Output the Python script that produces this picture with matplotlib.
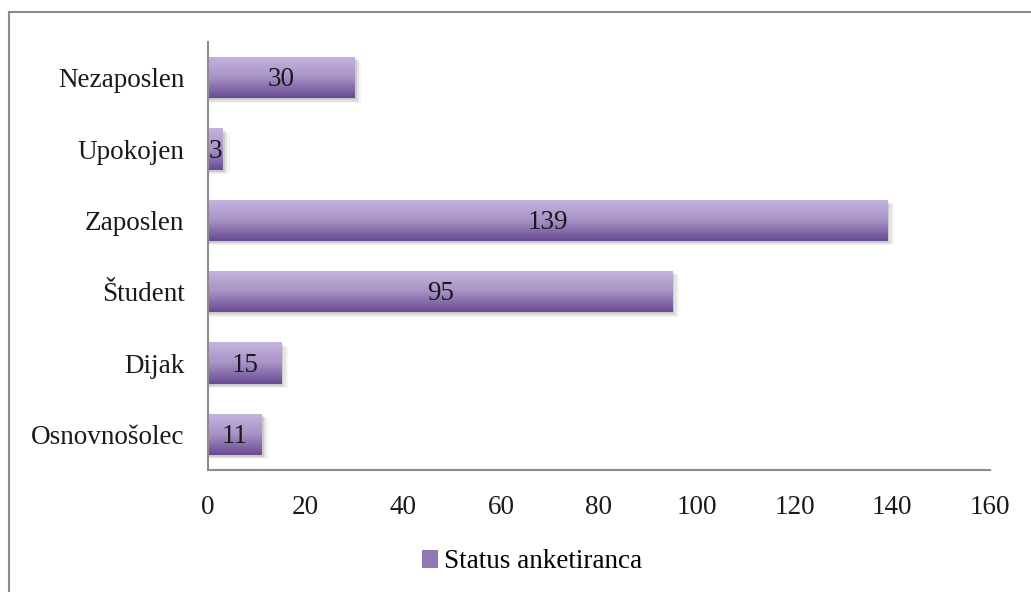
import numpy as np
import matplotlib.pyplot as plt
from matplotlib.colors import LinearSegmentedColormap
from matplotlib.patches import Rectangle
from matplotlib.lines import Line2D

# Data
categories = ['Osnovnošolec', 'Dijak', 'Študent', 'Zaposlen', 'Upokojen', 'Nezaposlen']
values = [11, 15, 95, 139, 3, 30]
x_ticks = [0, 20, 40, 60, 80, 100, 120, 140, 160]
series_name = 'Status anketiranca'

plt.rcParams['font.family'] = ['Liberation Serif', 'DejaVu Serif']
FS = 19.5

fig = plt.figure(figsize=(10.31, 5.92), dpi=100)
ax = fig.add_axes([208 / 1031, 1 - 470 / 592, (990 - 208) / 1031, (470 - 42) / 592])

# gradient from light lavender (top) to dark purple (bottom)
grad_cmap = LinearSegmentedColormap.from_list('purp', ['#c6b4df', '#a793c6', '#684a92'])
grad = np.linspace(0, 1, 256).reshape(-1, 1)

bar_h = 0.58
for i, v in enumerate(values):
    # soft shadow
    for k, a in enumerate([0.10, 0.07, 0.04]):
        off = 0.4 + k * 0.5
        sh = Rectangle((0, i - bar_h / 2 - 0.03 - k * 0.015), v + off, bar_h,
                       facecolor='black', alpha=a, edgecolor='none', zorder=1)
        ax.add_patch(sh)
    rect = Rectangle((0, i - bar_h / 2), v, bar_h, facecolor='none', edgecolor='none', zorder=2)
    ax.add_patch(rect)
    im = ax.imshow(grad, cmap=grad_cmap, aspect='auto', origin='upper',
                   extent=[0, v, i - bar_h / 2, i + bar_h / 2], zorder=2)
    im.set_clip_path(rect)
    ax.text(v / 2, i - 0.03, str(v), ha='center', va='center', fontsize=FS, color='#1a1a1a', zorder=3)

ax.set_xlim(0, 160)
ax.set_ylim(-0.5, len(categories) - 0.5)
ax.set_xticks(x_ticks)
ax.set_yticks(range(len(categories)))
ax.set_yticklabels(categories)
ax.tick_params(length=0, labelsize=FS, colors='#1a1a1a')
ax.tick_params(axis='x', pad=18)
ax.tick_params(axis='y', pad=17)
for s in ['top', 'right']:
    ax.spines[s].set_visible(False)
for s in ['left', 'bottom']:
    ax.spines[s].set_color('#8c8c8c')
    ax.spines[s].set_linewidth(1.5)

# legend
handle = Rectangle((0, 0), 1, 1, facecolor='#9079b3', edgecolor='none')
fig.legend([handle], [series_name], loc='center', bbox_to_anchor=(532 / 1031, 1 - 562 / 592),
           frameon=False, fontsize=FS, handlelength=0.6, handleheight=0.6, handletextpad=0.2)

# outer chart frame (cropped on right and bottom)
fig.add_artist(Line2D([9 / 1031, 9 / 1031], [0, 1 - 12 / 592], color='#8c8c8c', lw=1.5))
fig.add_artist(Line2D([9 / 1031, 1], [1 - 12 / 592, 1 - 12 / 592], color='#8c8c8c', lw=1.5))

fig.savefig('out.png', dpi=100)
